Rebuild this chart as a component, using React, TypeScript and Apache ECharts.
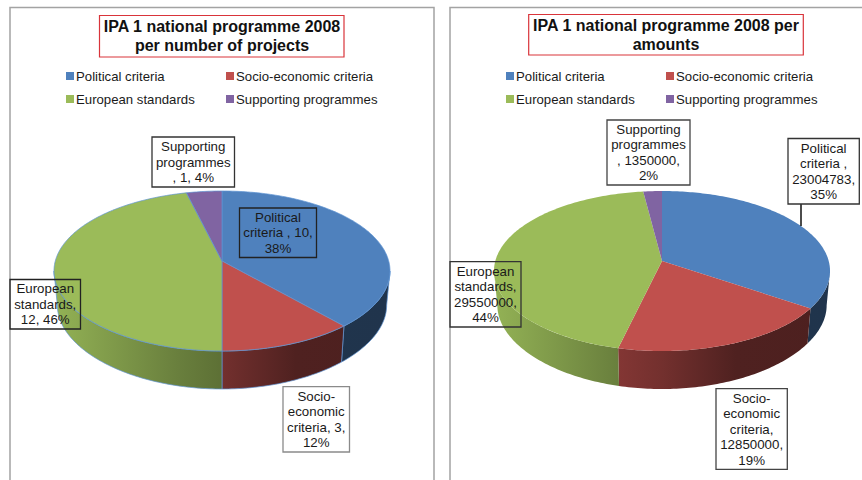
import React, { useEffect, useRef } from "react";
import * as echarts from "echarts";

const categories = ["Political criteria", "Socio-economic criteria", "European standards", "Supporting programmes"];
const colors = ["#4f81bd", "#c0504d", "#9bbb59", "#8064a2"];
const projectValues = [10, 3, 12, 1];
const amountValues = [23004783, 12850000, 29550000, 1350000];
const projectTitle = "IPA 1 national programme 2008\nper number of projects";
const amountTitle = "IPA 1 national programme 2008 per\namounts";
const projectLabels = [
  "Political\ncriteria , 10,\n38%",
  "Socio-\neconomic\ncriteria, 3,\n12%",
  "European\nstandards,\n12, 46%",
  "Supporting\nprogrammes\n, 1, 4%",
];
const amountLabels = [
  "Political\ncriteria ,\n23004783,\n35%",
  "Socio-\neconomic\ncriteria,\n12850000,\n19%",
  "European\nstandards,\n29550000,\n44%",
  "Supporting\nprogrammes\n, 1350000,\n2%",
];

const FONT = "'Liberation Sans', Arial, sans-serif";
const RX = 166.7;
const RY = 78.75;
const K = 0.125;
const DEPTH = 38;
const WALL_FROM = 97.2;
const WALL_TO = 262.8;

function rim(cx: number, cy: number, deg: number): [number, number] {
  const a = (deg * Math.PI) / 180;
  const u = Math.sin(a);
  const v = -Math.cos(a);
  const w = 1 - K * v;
  return [cx + (RX * u) / w, cy + (RY * v) / w];
}

function arc(cx: number, cy: number, from: number, to: number): [number, number][] {
  const pts: [number, number][] = [];
  const n = Math.max(2, Math.ceil(to - from));
  for (let i = 0; i <= n; i++) pts.push(rim(cx, cy, from + ((to - from) * i) / n));
  return pts;
}

function shade(hex: string, f: number): string {
  const n = parseInt(hex.slice(1), 16);
  const c = [(n >> 16) & 255, (n >> 8) & 255, n & 255].map((x) => Math.round(x * f));
  return `rgb(${c[0]},${c[1]},${c[2]})`;
}

function sliceSeries(values: number[], cx: number, cy: number, outline: string | null) {
  const total = values.reduce((a, b) => a + b, 0);
  let acc = 0;
  return values.map((value, idx) => {
    const start = (acc / total) * 360;
    acc += value;
    const end = (acc / total) * 360;
    const color = colors[idx];
    const stroke = outline || undefined;
    const lineWidth = outline ? 0.7 : 0;
    const wallFill = {
      type: "linear",
      x: cx - 168,
      y: 0,
      x2: cx + 168,
      y2: 0,
      global: true,
      colorStops: [
        { offset: 0, color: shade(color, 0.95) },
        { offset: 0.37, color: shade(color, 0.68) },
        { offset: 0.5, color: shade(color, 0.6) },
        { offset: 0.72, color: shade(color, 0.41) },
        { offset: 1, color: shade(color, 0.4) },
      ],
    };
    return {
      type: "custom",
      name: categories[idx],
      coordinateSystem: "none",
      silent: true,
      itemStyle: { color },
      data: [[value]],
      renderItem: () => {
        const children: any[] = [];
        const wFrom = Math.max(start, WALL_FROM);
        const wTo = Math.min(end, WALL_TO);
        if (wTo > wFrom) {
          const topEdge = arc(cx, cy, wFrom, wTo);
          const lower = topEdge
            .map(([x, y]) => {
              const d = (x - cx) / 150;
              return [cx + (x - cx) * 0.98, y + DEPTH - 3 * d * d];
            })
            .reverse();
          children.push({
            type: "polygon",
            shape: { points: [...topEdge, ...lower] },
            style: { fill: wallFill, stroke, lineWidth },
          });
        }
        children.push({
          type: "polygon",
          shape: { points: [[cx, cy], ...arc(cx, cy, start, end)] },
          style: { fill: color, stroke, lineWidth },
        });
        return { type: "group", children };
      },
    };
  });
}

function legend(names: string[], left: number) {
  return {
    orient: "vertical",
    left,
    top: 69.5,
    padding: 0,
    itemWidth: 8,
    itemHeight: 8,
    itemGap: 10,
    selectedMode: false,
    data: names,
    icon: "rect",
    textStyle: { fontFamily: FONT, fontSize: 13.2, color: "#1a1a1a", padding: [0, 0, 0, -3] },
  };
}

function box(text: string, b: number[], stroke: string, fill: string) {
  const [x, y, w, h] = b;
  return [
    { type: "rect", z: 10, shape: { x, y, width: w, height: h }, style: { fill, stroke, lineWidth: 1.3 } },
    {
      type: "text",
      z: 11,
      x: x + w / 2,
      y: y + h / 2,
      style: {
        text,
        fontFamily: FONT,
        fontSize: 13.3,
        lineHeight: 15.5,
        fill: "#1a1a1a",
        align: "center",
        verticalAlign: "middle",
      },
    },
  ];
}

function title(text: string, b: number[], cx: number) {
  const [x, y, w, h] = b;
  return [
    { type: "rect", z: 10, shape: { x, y, width: w, height: h }, style: { fill: "#fff", stroke: "#d9343a", lineWidth: 1.2 } },
    {
      type: "text",
      z: 11,
      x: cx,
      y: y + h / 2,
      style: {
        text,
        fontFamily: FONT,
        fontSize: 16,
        fontWeight: "bold",
        lineHeight: 18.7,
        fill: "#111",
        align: "center",
        verticalAlign: "middle",
      },
    },
  ];
}

export default function App() {
  const ref = useRef<HTMLDivElement>(null);
  useEffect(() => {
    document.body.style.margin = "0";
    const chart = echarts.init(ref.current!, undefined, { renderer: "svg" });
    const frame = { stroke: "#a3a3a3", lineWidth: 1.5, fill: "none" };
    chart.setOption({
      animation: false,
      legend: [
        legend([categories[0], categories[2]], 66),
        legend([categories[1], categories[3]], 226),
        legend([categories[0], categories[2]], 506),
        legend([categories[1], categories[3]], 666),
      ],
      series: [
        ...sliceSeries(projectValues, 222, 261, "#5f93d3"),
        ...sliceSeries(amountValues, 662, 261, null),
      ],
      graphic: [
        { type: "polyline", shape: { points: [[10, 480], [10, 7.5], [434, 7.5], [434, 480]] }, style: frame },
        { type: "polyline", shape: { points: [[450, 480], [450, 7.5], [862, 7.5]] }, style: frame },
        ...title(projectTitle, [99.5, 15.5, 244.5, 41.5], 222),
        ...title(amountTitle, [528.7, 14.5, 274.6, 40.5], 666),
        ...box(projectLabels[3], [152, 137, 82.5, 50], "#333", "#fff"),
        ...box(projectLabels[0], [239.5, 208, 77, 49.5], "#222", "#4f81bd"),
        ...box(projectLabels[2], [10, 279.5, 70.5, 49.5], "#222", "transparent"),
        ...box(projectLabels[1], [283, 386.7, 66.5, 65.3], "#8a8a8a", "#fff"),
        ...box(amountLabels[3], [607, 120, 83, 65], "#444", "#fff"),
        ...box(amountLabels[0], [788, 138.5, 71.3, 65.5], "#333", "#fff"),
        { type: "line", z: 9, shape: { x1: 801, y1: 204, x2: 801, y2: 226 }, style: { stroke: "#111", lineWidth: 1.5 } },
        ...box(amountLabels[2], [450, 261.7, 71, 65.3], "#333", "transparent"),
        ...box(amountLabels[1], [716, 388.7, 71.3, 80.6], "#444", "#fff"),
      ],
    });
    return () => chart.dispose();
  }, []);
  return <div ref={ref} style={{ width: 862, height: 480 }} />;
}
